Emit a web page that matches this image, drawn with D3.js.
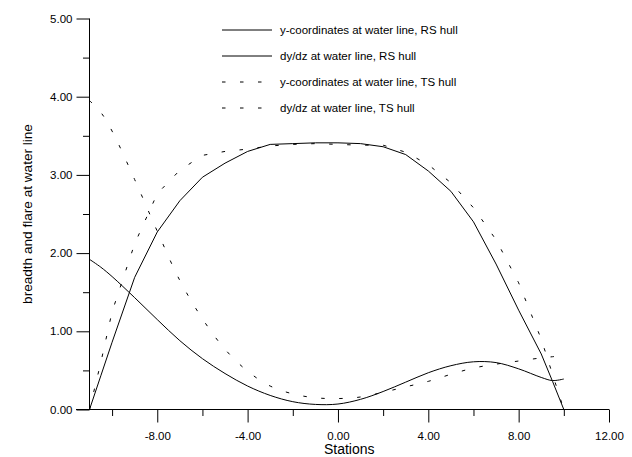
<!DOCTYPE html>
<html>
<head>
<meta charset="utf-8">
<script src="https://cdn.jsdelivr.net/npm/d3@7"></script>
<style>
  html, body { margin: 0; padding: 0; background: #fff; }
  svg { display: block; }
  text { font-family: "Liberation Sans", Arial, sans-serif; fill: #000; }
</style>
</head>
<body>
<svg id="chart" width="632" height="457"></svg>
<script>
// Stations along the hull (half stations at both ends)
const stations = [-11, -10.5, -10, -9, -8, -7, -6, -5, -4, -3, -2, -1, 0, 1, 2, 3, 4, 5, 6, 7, 8, 9, 9.5, 10];

// Half-breadth at the water line, RS hull
const rsBreadth = [0, 0.43, 0.86, 1.69, 2.27, 2.67, 2.97, 3.15, 3.30, 3.39, 3.40, 3.41, 3.41, 3.40, 3.36, 3.26, 3.05, 2.79, 2.40, 1.86, 1.27, 0.71, 0.36, 0];
// Flare dy/dz at the water line, RS hull
const rsFlare = [1.92, 1.82, 1.70, 1.43, 1.15, 0.88, 0.65, 0.46, 0.30, 0.18, 0.10, 0.065, 0.07, 0.13, 0.23, 0.35, 0.47, 0.56, 0.61, 0.60, 0.52, 0.41, 0.37, 0.39];
// Half-breadth at the water line, TS hull
const tsBreadth = [0, 0.60, 1.25, 2.12, 2.76, 3.06, 3.25, 3.30, 3.33, 3.37, 3.39, 3.40, 3.39, 3.38, 3.38, 3.29, 3.13, 2.90, 2.58, 2.17, 1.62, 0.90, 0.45, 0];
// Flare dy/dz at the water line, TS hull
const tsFlare = [3.95, 3.80, 3.56, 2.94, 2.28, 1.65, 1.16, 0.77, 0.49, 0.30, 0.20, 0.15, 0.14, 0.16, 0.22, 0.29, 0.36, 0.45, 0.53, 0.58, 0.62, 0.66, 0.675, 0.69];

// Axis ticks
const xMajorTicks = [-8, -4, 0, 4, 8, 12];
const xMinorTicks = [-10, -6, -2, 2, 6, 10];
const yMajorTicks = [0, 1, 2, 3, 4, 5];
const yMinorTicks = [0.5, 1.5, 2.5, 3.5, 4.5];

const seriesNames = [
  "y-coordinates at water line, RS hull",
  "dy/dz at water line, RS hull",
  "y-coordinates at water line, TS hull",
  "dy/dz at water line, TS hull"
];

const svg = d3.select("#chart");
const x = d3.scaleLinear().domain([-11, 12]).range([89.5, 609]);
const y = d3.scaleLinear().domain([0, 5]).range([409.5, 18.5]);

// two decimals, plain hyphen for negatives
const fmt = d3.formatLocale({ decimal: ".", thousands: ",", grouping: [3], currency: ["", ""], minus: "-" }).format(".2f");

// x axis
const gx = svg.append("g").attr("transform", `translate(0,${y(0)})`);
gx.call(d3.axisBottom(x).tickValues(xMajorTicks).tickSize(13).tickSizeOuter(0).tickPadding(9).tickFormat(fmt));
gx.append("g").call(d3.axisBottom(x).tickValues(xMinorTicks).tickSize(6.5).tickSizeOuter(0).tickFormat(""));
gx.selectAll(".domain").remove();
gx.append("line").attr("x1", 76).attr("x2", x(12)).attr("stroke", "#000");

// y axis
const gy = svg.append("g").attr("transform", `translate(${x(-11)},0)`);
gy.call(d3.axisLeft(y).tickValues(yMajorTicks).tickSize(13).tickSizeOuter(0).tickPadding(4).tickFormat(fmt));
gy.append("g").call(d3.axisLeft(y).tickValues(yMinorTicks).tickSize(6.5).tickSizeOuter(0).tickFormat(""));
gy.selectAll(".domain").remove();
gy.append("line").attr("y1", y(0)).attr("y2", y(5)).attr("stroke", "#000");

svg.selectAll(".tick line").attr("stroke", "#000");
svg.selectAll(".tick text").style("font-size", "11.5px").attr("fill", "#000");

// axis titles
svg.append("text")
  .attr("x", (x(-11) + x(12)) / 2).attr("y", 454)
  .attr("text-anchor", "middle").style("font-size", "14px")
  .text("Stations");
svg.append("text")
  .attr("transform", `translate(32,${(y(0) + y(5)) / 2}) rotate(-90)`)
  .attr("text-anchor", "middle").style("font-size", "13.6px")
  .text("breadth and flare at water line");

// curves
const polyline = d3.line().x((d, i) => x(stations[i])).y(d => y(d));
const smooth = d3.line().x((d, i) => x(stations[i])).y(d => y(d)).curve(d3.curveCatmullRom.alpha(0.5));
const dash = "3.5,14.5";

const curves = [
  { values: rsBreadth, gen: polyline, dash: null },
  { values: rsFlare, gen: smooth, dash: null },
  { values: tsBreadth, gen: polyline, dash: dash },
  { values: tsFlare, gen: smooth, dash: dash }
];

svg.append("g").selectAll("path").data(curves).join("path")
  .attr("d", c => c.gen(c.values))
  .attr("fill", "none")
  .attr("stroke", "#000")
  .attr("stroke-width", 1)
  .attr("stroke-dasharray", c => c.dash);

// legend
const legend = svg.append("g");
const rowY = i => 30 + i * 26;
const rows = legend.selectAll("g").data(curves).join("g")
  .attr("transform", (c, i) => `translate(0,${rowY(i)})`);
rows.append("line")
  .attr("x1", 222).attr("x2", 272).attr("y1", 0).attr("y2", 0)
  .attr("stroke", "#000").attr("stroke-width", 1)
  .attr("stroke-dasharray", c => c.dash);
rows.append("text")
  .attr("x", 280).attr("y", 0).attr("dy", "0.35em")
  .style("font-size", "11.5px")
  .text((c, i) => seriesNames[i]);
</script>
</body>
</html>
